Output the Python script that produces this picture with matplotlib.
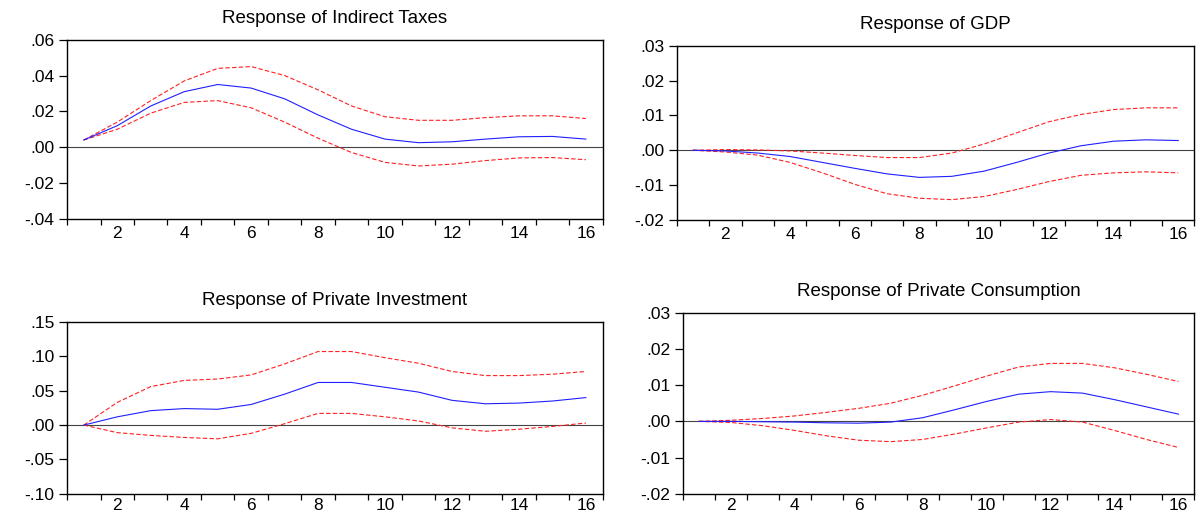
import matplotlib
matplotlib.use('Agg')
import matplotlib.pyplot as plt
from matplotlib.ticker import FuncFormatter, MultipleLocator, FixedLocator

plt.rcParams['font.family'] = ['Liberation Sans', 'DejaVu Sans']

periods = list(range(1, 17))

# response of indirect taxes
tax_resp = [0.004, 0.012, 0.023, 0.031, 0.035, 0.033, 0.027, 0.018,
            0.010, 0.0045, 0.0025, 0.003, 0.0045, 0.0058, 0.006, 0.0045]
tax_upper = [0.004, 0.014, 0.026, 0.037, 0.044, 0.045, 0.040, 0.032,
             0.023, 0.017, 0.015, 0.015, 0.0165, 0.0175, 0.0175, 0.016]
tax_lower = [0.004, 0.010, 0.019, 0.025, 0.026, 0.022, 0.014, 0.005,
             -0.003, -0.0085, -0.0105, -0.0095, -0.0075, -0.006, -0.0058, -0.007]

# response of gdp
gdp_resp = [0.0, -0.0002, -0.0008, -0.0018, -0.0035, -0.0052, -0.0068, -0.0078,
            -0.0075, -0.006, -0.0035, -0.0008, 0.0013, 0.0026, 0.003, 0.0028]
gdp_upper = [0.0, 0.0002, 0.0001, -0.0002, -0.0008, -0.0015, -0.0021, -0.0021,
             -0.0008, 0.0018, 0.005, 0.0082, 0.0103, 0.0117, 0.0122, 0.0122]
gdp_lower = [0.0, -0.0005, -0.0014, -0.0035, -0.0065, -0.0098, -0.0125, -0.0138,
             -0.0142, -0.0133, -0.0113, -0.009, -0.0072, -0.0065, -0.0062, -0.0065]

# response of private investment
inv_resp = [0.0, 0.012, 0.021, 0.024, 0.023, 0.030, 0.045, 0.062,
            0.062, 0.055, 0.048, 0.036, 0.031, 0.032, 0.035, 0.040]
inv_upper = [0.0, 0.033, 0.056, 0.065, 0.067, 0.073, 0.089, 0.107,
             0.107, 0.098, 0.090, 0.078, 0.072, 0.072, 0.074, 0.078]
inv_lower = [0.0, -0.011, -0.015, -0.018, -0.020, -0.012, 0.002, 0.017,
             0.017, 0.012, 0.006, -0.004, -0.009, -0.006, -0.002, 0.003]

# response of private consumption
con_resp = [0.0, 0.0, -0.0001, -0.0002, -0.0004, -0.0005, -0.0002, 0.001,
            0.0032, 0.0055, 0.0075, 0.0082, 0.0078, 0.006, 0.004, 0.002]
con_upper = [0.0, 0.0003, 0.0008, 0.0015, 0.0025, 0.0036, 0.005, 0.0072,
             0.0098, 0.0125, 0.015, 0.016, 0.016, 0.0148, 0.013, 0.011]
con_lower = [0.0, -0.0003, -0.0012, -0.0025, -0.004, -0.0052, -0.0056, -0.005,
             -0.0035, -0.0018, -0.0002, 0.0005, -0.0002, -0.0025, -0.005, -0.0072]


def eviews_fmt(v, pos):
    s = '%.2f' % v
    return s.replace('0.', '.', 1)


def draw_panel(ax, title, resp, upper, lower, ylim, ystep, xpad=5.5):
    ax.plot(periods, upper, '--', color='#ff2020', lw=0.8, dashes=(4, 2))
    ax.plot(periods, lower, '--', color='#ff2020', lw=0.8, dashes=(4, 2))
    ax.plot(periods, resp, '-', color='#2020ff', lw=0.8)
    ax.axhline(0, color='#444444', lw=0.8, zorder=0)

    ax.set_xlim(0.5, 16.5)
    ax.set_ylim(*ylim)
    ax.set_title(title, fontsize=13.5, pad=12)

    # labels on even periods, tick marks between observations
    ax.xaxis.set_major_locator(FixedLocator(range(2, 17, 2)))
    ax.xaxis.set_minor_locator(MultipleLocator(1, offset=0.5))
    ax.tick_params(axis='x', which='major', length=0, labelsize=12.5, pad=xpad)
    ax.tick_params(axis='x', which='minor', length=4, width=0.9, direction='out')

    ax.yaxis.set_major_locator(MultipleLocator(ystep))
    ax.yaxis.set_major_formatter(FuncFormatter(eviews_fmt))
    ax.tick_params(axis='y', length=6, width=0.9, labelsize=12.5, direction='out', pad=3)

    for sp in ax.spines.values():
        sp.set_linewidth(1.0)


fig = plt.figure(figsize=(11.98, 5.16), dpi=100)

ax1 = fig.add_axes([0.056, 0.576, 0.447, 0.347])
ax2 = fig.add_axes([0.565, 0.574, 0.432, 0.337])
ax3 = fig.add_axes([0.056, 0.043, 0.447, 0.333])
ax4 = fig.add_axes([0.570, 0.043, 0.427, 0.351])

draw_panel(ax1, 'Response of Indirect Taxes', tax_resp, tax_upper, tax_lower, (-0.04, 0.06), 0.02)
draw_panel(ax2, 'Response of GDP', gdp_resp, gdp_upper, gdp_lower, (-0.02, 0.03), 0.01)
draw_panel(ax3, 'Response of Private Investment', inv_resp, inv_upper, inv_lower, (-0.10, 0.15), 0.05, xpad=3)
draw_panel(ax4, 'Response of Private Consumption', con_resp, con_upper, con_lower, (-0.02, 0.03), 0.01, xpad=3)

fig.savefig('out.png', dpi=100)
